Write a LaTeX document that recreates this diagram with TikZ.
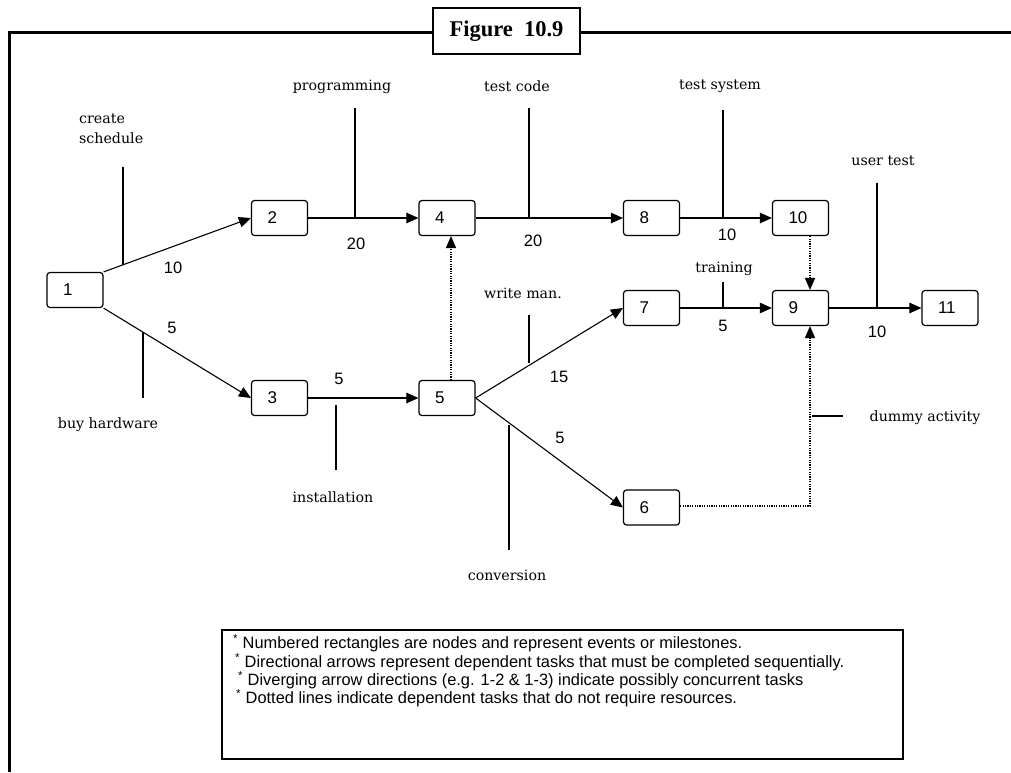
\documentclass[tikz,border=0pt]{standalone}
\usepackage{fontspec}
\setmainfont{DejaVu Serif}
\newfontfamily\numfont{Liberation Sans}
\newfontfamily\titlefont{Liberation Serif}
\usetikzlibrary{arrows.meta}
\begin{document}
\begin{tikzpicture}[x=1pt,y=-1pt,
 evt/.style={draw, line width=1.2pt, rounded corners=3pt, minimum width=56pt, minimum height=35pt, text width=24pt, inner xsep=16pt, inner ysep=0pt, align=left, font=\numfont\fontsize{17}{17}\selectfont},
 arr/.style={line width=1.1pt, -{Triangle[length=12pt,width=10.5pt]}},
 dotline/.style={line width=1.1pt, dash pattern=on 1.2pt off 1.2pt},
 dotarr/.style={dotline, -{Triangle[length=12pt,width=10.5pt,line width=0pt]}},
 tickline/.style={line width=1.1pt},
 lbl/.style={font=\fontsize{14.2}{20}\selectfont, inner sep=0pt},
 numlbl/.style={font=\numfont\fontsize{16.5}{16}\selectfont, inner sep=0pt},
 note/.style={font=\numfont\fontsize{16.4}{18}\selectfont, anchor=west, inner sep=0pt},
]
\useasboundingbox (0,0) rectangle (1011,772);
\fill[white] (0,0) rectangle (1011,772);
% frame
\coordinate (fbl) at (9,772);
\coordinate (ftl) at (9,32);
\coordinate (ftr) at (1011,32);
\draw[line width=3pt] (fbl) -- (ftl) -- (ftr);
\node[draw, line width=2.5pt, fill=white, minimum width=147pt, minimum height=46pt, inner sep=0pt,
  font=\titlefont\bfseries\fontsize{22.5}{22}\selectfont] (title) at (506.5,31) {Figure\ \ 10.9};

% event nodes
\node[evt] (n1) at (75,290) {1};
\node[evt] (n2) at (279.5,218) {2};
\node[evt] (n4) at (447,218) {4};
\node[evt] (n8) at (651.5,218) {8};
\node[evt] (n10) at (800.5,218) {10};
\node[evt] (n3) at (279.5,398) {3};
\node[evt] (n5) at (447,398) {5};
\node[evt] (n7) at (651.5,308) {7};
\node[evt] (n9) at (800.5,308) {9};
\node[evt] (n11) at (950,308) {11};
\node[evt] (n6) at (651.5,507.5) {6};

% activity arrows
\draw[arr] (n1.north east) -- (n2.west);
\draw[arr] (n1.south east) -- (n3.west);
\draw[arr] (n2.east) -- (n4.west);
\draw[arr] (n3.east) -- (n5.west);
\draw[arr] (n4.east) -- (n8.west);
\draw[arr] (n8.east) -- (n10.west);
\draw[arr] (n5.east) -- (n7.west);
\draw[arr] (n5.east) -- (n6.west);
\draw[arr] (n7.east) -- (n9.west);
\draw[arr] (n9.east) -- (n11.west);

% dummy (dotted) arrows
\draw[dotarr] ([xshift=4pt]n5.north) -- ([xshift=4pt]n4.south);
\draw[dotarr] ([xshift=9.5pt]n10.south) -- ([xshift=9.5pt]n9.north);
\coordinate (dcorner) at (810,506);
\draw[dotarr] (n6.east |- dcorner) -- (dcorner) -- ([xshift=9.5pt]n9.south);

% duration labels
\node[numlbl] (d12) at (173,268) {10};
\node[numlbl] (d13) at (172,328) {5};
\node[numlbl] (d24) at (356,244) {20};
\node[numlbl] (d35) at (339,379) {5};
\node[numlbl] (d48) at (533,241) {20};
\node[numlbl] (d810) at (727,235) {10};
\node[numlbl] (d79) at (723,326) {5};
\node[numlbl] (d911) at (877,332) {10};
\node[numlbl] (d57) at (559,377) {15};
\node[numlbl] (d56) at (560,438) {5};

% activity names with leader lines
\node[lbl, anchor=north west, align=left] (tcs) at (79,114) {create\\schedule};
\coordinate (cs1) at (123,167); \coordinate (cs2) at (123,265);
\draw[tickline] (cs1) -- (cs2);

\node[lbl] (tbh) at (108,425) {buy hardware};
\coordinate (bh1) at (143,332); \coordinate (bh2) at (143,398);
\draw[tickline] (bh1) -- (bh2);

\node[lbl] (tpr) at (342,87) {programming};
\coordinate (pr1) at (355,108); \coordinate (pr2) at (355,218);
\draw[tickline] (pr1) -- (pr2);

\node[lbl] (tin) at (333,497) {installation};
\coordinate (in1) at (336,405); \coordinate (in2) at (336,470);
\draw[tickline] (in1) -- (in2);

\node[lbl] (ttc) at (517,86) {test code};
\coordinate (tc1) at (529,108); \coordinate (tc2) at (529,218);
\draw[tickline] (tc1) -- (tc2);

\node[lbl] (tts) at (720,86) {test system};
\coordinate (ts1) at (723,110); \coordinate (ts2) at (723,218);
\draw[tickline] (ts1) -- (ts2);

\node[lbl] (tut) at (883,161) {user test};
\coordinate (ut1) at (877,183); \coordinate (ut2) at (877,308);
\draw[tickline] (ut1) -- (ut2);

\node[lbl] (ttr) at (724,269) {training};
\coordinate (tr1) at (723,282); \coordinate (tr2) at (723,308);
\draw[tickline] (tr1) -- (tr2);

\node[lbl] (twm) at (523,293) {write man.};
\coordinate (wm1) at (529,315); \coordinate (wm2) at (529,363);
\draw[tickline] (wm1) -- (wm2);

\node[lbl] (tcv) at (507,575) {conversion};
\coordinate (cv1) at (509,425); \coordinate (cv2) at (509,550);
\draw[tickline] (cv1) -- (cv2);

\node[lbl] (tda) at (925,418) {dummy activity};
\coordinate (da1) at (812,416); \coordinate (da2) at (843,416);
\draw[tickline] (da1) -- (da2);

% legend
\node[draw, line width=1.3pt, minimum width=681pt, minimum height=129pt, inner sep=0pt] (legend) at (562.5,694.5) {};
\node[note] (l1) at (233,643) {\textsuperscript{*} Numbered rectangles are nodes and represent events or milestones.};
\node[note] (l2) at (235,662) {\textsuperscript{*} Directional arrows represent dependent tasks that must be completed sequentially.};
\node[note] (l3) at (238,680) {\textsuperscript{*} Diverging arrow directions (e.g. 1-2 \& 1-3) indicate possibly concurrent tasks};
\node[note] (l4) at (236,698) {\textsuperscript{*} Dotted lines indicate dependent tasks that do not require resources.};
\end{tikzpicture}
\end{document}
